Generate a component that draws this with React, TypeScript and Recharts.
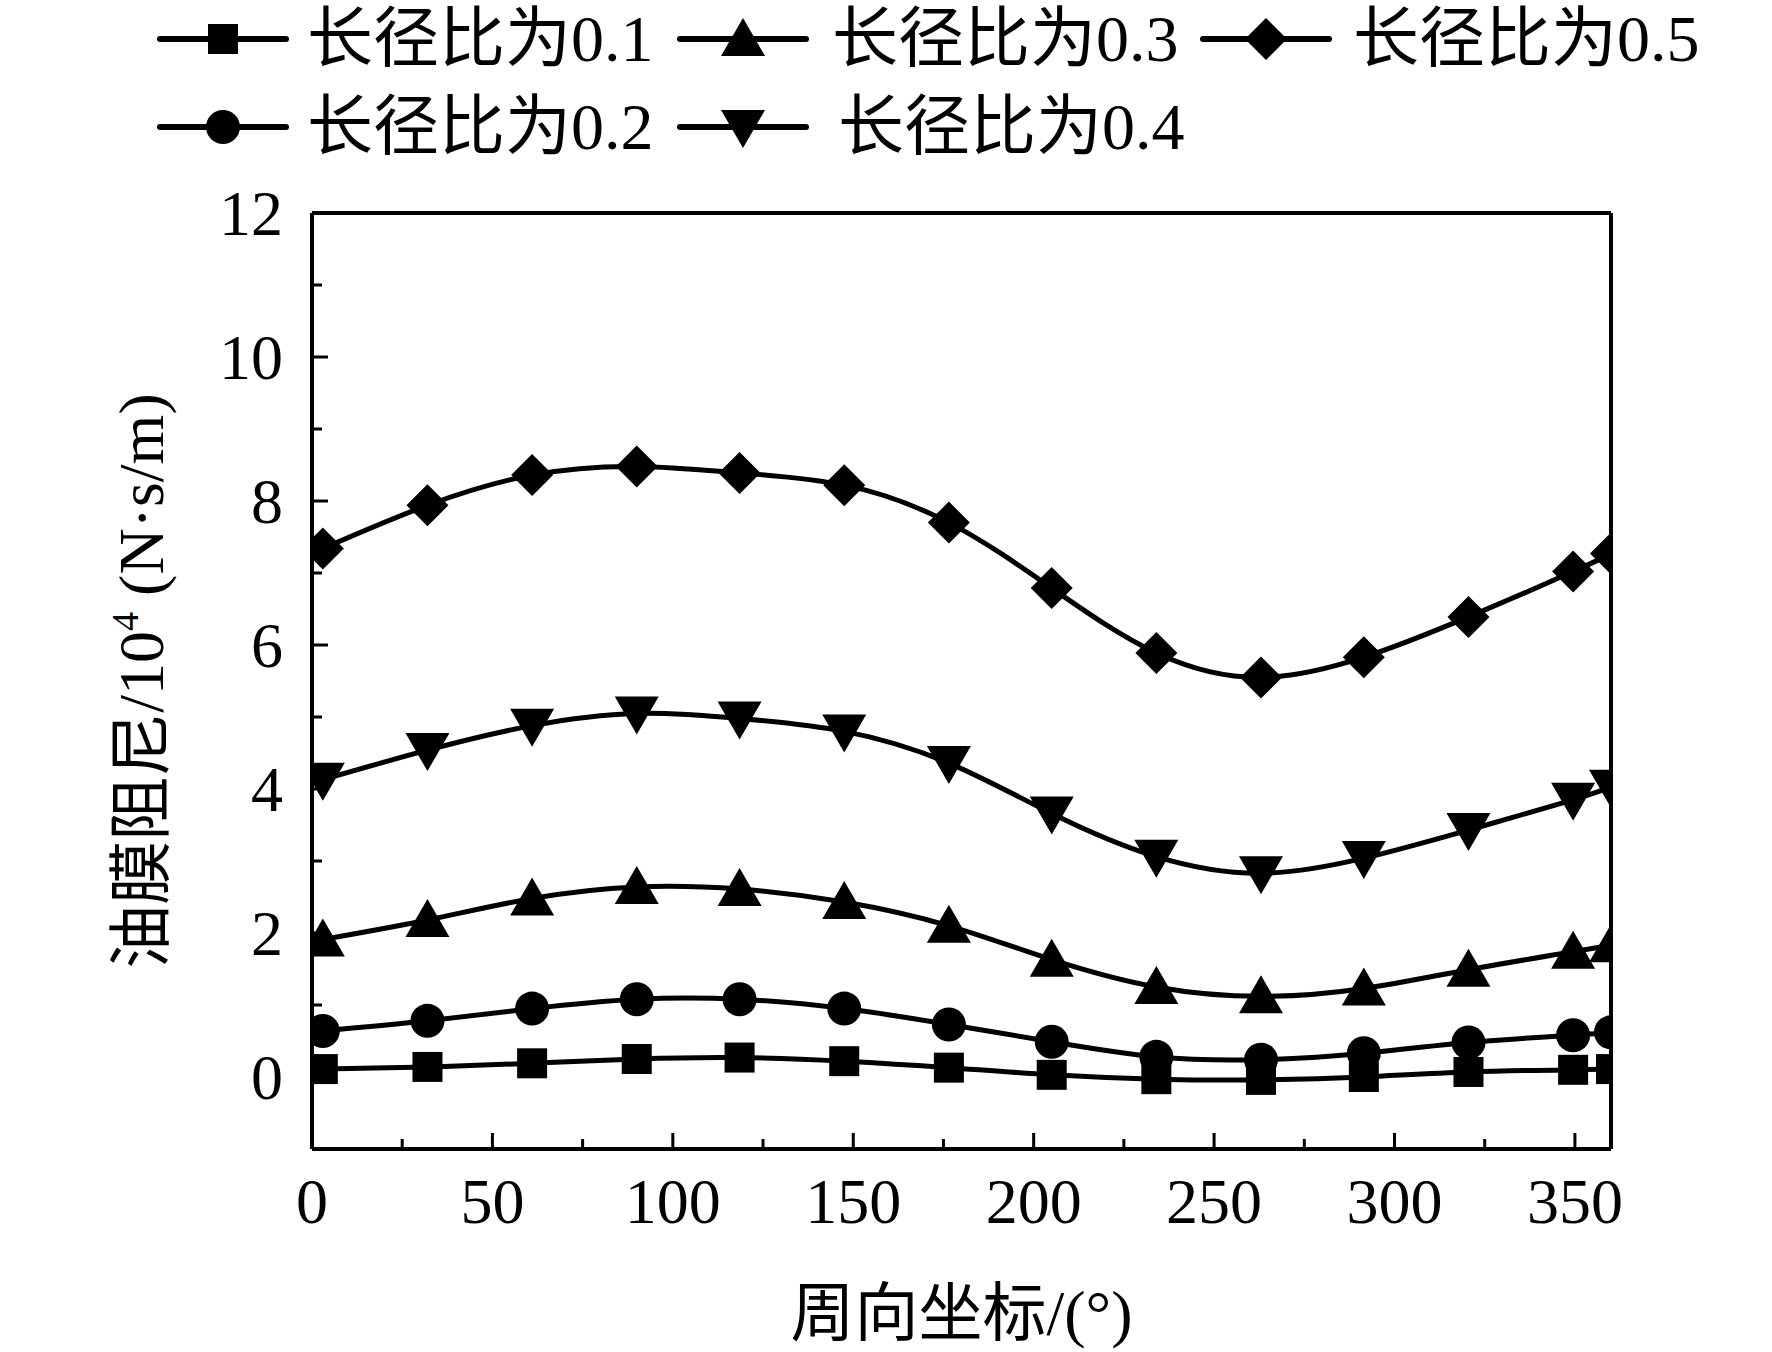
import React from 'react';
import {
  Label,
  Legend,
  Line,
  LineChart,
  ReferenceLine,
  XAxis,
  YAxis,
} from 'recharts';

// circumferential position (deg)
const angles = [3, 32, 61, 90, 118.5, 147.5, 176.5, 205, 234, 263, 291.5, 320.5, 349.5, 360];

// oil film damping, 10^4 N·s/m, per length/diameter ratio
const ratio01 = [0.11, 0.14, 0.19, 0.25, 0.27, 0.22, 0.13, 0.03, -0.03, -0.04, 0.0, 0.07, 0.1, 0.11];
const ratio02 = [0.64, 0.78, 0.95, 1.08, 1.08, 0.95, 0.73, 0.49, 0.28, 0.24, 0.33, 0.48, 0.58, 0.62];
const ratio03 = [1.91, 2.18, 2.48, 2.64, 2.61, 2.43, 2.1, 1.63, 1.25, 1.12, 1.23, 1.49, 1.74, 1.83];
const ratio04 = [4.13, 4.54, 4.88, 5.05, 4.98, 4.8, 4.36, 3.66, 3.06, 2.83, 3.04, 3.43, 3.85, 4.03];
const ratio05 = [7.34, 7.94, 8.36, 8.48, 8.39, 8.22, 7.7, 6.79, 5.89, 5.55, 5.83, 6.39, 7.02, 7.27];

const xTicks = [0, 25, 50, 75, 100, 125, 150, 175, 200, 225, 250, 275, 300, 325, 350];
const yTicks = [0, 1, 2, 3, 4, 5, 6, 7, 8, 9, 10, 11, 12];

const seriesNames = ['长径比为0.1', '长径比为0.2', '长径比为0.3', '长径比为0.4', '长径比为0.5'];

const data = angles.map((a, i) => ({
  angle: a,
  r1: ratio01[i],
  r2: ratio02[i],
  r3: ratio03[i],
  r4: ratio04[i],
  r5: ratio05[i],
}));

const FONT = "'Liberation Serif', 'Times New Roman', 'Noto Sans CJK SC', serif";
const FS = 64;
const LEGEND_FS = 66;

type Shape = 'square' | 'circle' | 'up' | 'down' | 'diamond';

function marker(shape: Shape, cx: number, cy: number, key?: string | number) {
  switch (shape) {
    case 'square':
      return <rect key={key} x={cx - 15} y={cy - 15} width={30} height={30} fill="#000" />;
    case 'circle':
      return <circle key={key} cx={cx} cy={cy} r={17} fill="#000" />;
    case 'up':
      return (
        <polygon
          key={key}
          points={`${cx},${cy - 21} ${cx - 22},${cy + 17} ${cx + 22},${cy + 17}`}
          fill="#000"
        />
      );
    case 'down':
      return (
        <polygon
          key={key}
          points={`${cx},${cy + 21} ${cx - 22},${cy - 17} ${cx + 22},${cy - 17}`}
          fill="#000"
        />
      );
    default:
      return (
        <polygon
          key={key}
          points={`${cx},${cy - 21} ${cx + 21},${cy} ${cx},${cy + 21} ${cx - 21},${cy}`}
          fill="#000"
        />
      );
  }
}

const series: { key: string; name: string; shape: Shape }[] = [
  { key: 'r1', name: seriesNames[0], shape: 'square' },
  { key: 'r2', name: seriesNames[1], shape: 'circle' },
  { key: 'r3', name: seriesNames[2], shape: 'up' },
  { key: 'r4', name: seriesNames[3], shape: 'down' },
  { key: 'r5', name: seriesNames[4], shape: 'diamond' },
];

// legend slots: [row y, line start, text x]
const legendSlots: Record<string, [number, number, number]> = {
  r1: [39, 160, 307],
  r3: [39, 680, 832],
  r5: [39, 1203, 1353],
  r2: [127, 160, 307],
  r4: [127, 680, 838],
};

function renderLegend() {
  return (
    <svg width={1772} height={170} style={{ display: 'block' }}>
      {series.map((s) => {
        const [y, x0, tx] = legendSlots[s.key];
        return (
          <g key={s.key}>
            <line x1={x0} y1={y} x2={x0 + 126} y2={y} stroke="#000" strokeWidth={6} strokeLinecap="round" />
            {marker(s.shape, x0 + 63, y)}
            <text x={tx} y={y} dy="0.34em" fontFamily={FONT} fontSize={LEGEND_FS} fill="#000">
              {s.name}
            </text>
          </g>
        );
      })}
    </svg>
  );
}

function XTick(props: any) {
  const { x, y, payload } = props;
  const v = payload.value as number;
  const major = v % 50 === 0;
  return (
    <g>
      <line x1={x} y1={y} x2={x} y2={y - (major ? 16 : 10)} stroke="#000" strokeWidth={3} />
      {major && (
        <text x={x} y={y + 74} textAnchor="middle" fontFamily={FONT} fontSize={FS} fill="#000">
          {v}
        </text>
      )}
    </g>
  );
}

function YTick(props: any) {
  const { x, y, payload } = props;
  const v = payload.value as number;
  const major = v % 2 === 0;
  return (
    <g>
      <line x1={x} y1={y} x2={x + (major ? 16 : 10)} y2={y} stroke="#000" strokeWidth={3} />
      {major && (
        <text x={x - 29} y={y} dy="0.34em" textAnchor="end" fontFamily={FONT} fontSize={FS} fill="#000">
          {v}
        </text>
      )}
    </g>
  );
}

function YTitle(props: any) {
  const vb = props.viewBox;
  const cx = vb.x + 141;
  const cy = vb.y + vb.height / 2;
  return (
    <text
      x={cx}
      y={cy}
      dy="0.34em"
      textAnchor="middle"
      transform={`rotate(-90 ${cx} ${cy})`}
      fontFamily={FONT}
      fontSize={FS}
      fill="#000"
    >
      油膜阻尼/10
      <tspan fontSize={38} dy={-25}>
        4
      </tspan>
      <tspan dy={25}> (N·s/m)</tspan>
    </text>
  );
}

function XTitle(props: any) {
  const vb = props.viewBox;
  const cx = vb.x + vb.width / 2;
  const cy = vb.y + 164;
  return (
    <text x={cx} y={cy} dy="0.34em" textAnchor="middle" fontFamily={FONT} fontSize={FS} fill="#000">
      周向坐标/(°)
    </text>
  );
}

export default function App() {
  return (
    <div style={{ position: 'absolute', left: 0, top: 0, width: 1772, height: 1352, background: '#fff' }}>
      <LineChart width={1772} height={1352} data={data} margin={{ top: 213, right: 161, bottom: 0, left: 0 }}>
        <XAxis
          dataKey="angle"
          type="number"
          domain={[0, 360]}
          ticks={xTicks}
          allowDataOverflow
          height={203}
          tickSize={0}
          tickMargin={0}
          tickLine={false}
          axisLine={{ stroke: '#000', strokeWidth: 4 }}
          tick={XTick}
          interval={0}
        >
          <Label content={XTitle} />
        </XAxis>
        <YAxis
          type="number"
          domain={[-1, 12]}
          ticks={yTicks}
          allowDataOverflow
          width={312}
          tickSize={0}
          tickMargin={0}
          tickLine={false}
          axisLine={{ stroke: '#000', strokeWidth: 4 }}
          tick={YTick}
          interval={0}
        >
          <Label content={YTitle} />
        </YAxis>
        <ReferenceLine y={12} stroke="#000" strokeWidth={4} />
        <ReferenceLine x={360} stroke="#000" strokeWidth={4} />
        <Legend
          layout="horizontal"
          verticalAlign="middle"
          align="center"
          content={renderLegend}
          wrapperStyle={{ position: 'absolute', left: 0, top: 0, width: 1772, height: 170 }}
        />
        {series.map((s) => (
          <Line
            key={s.key}
            dataKey={s.key}
            name={s.name}
            type="natural"
            stroke="#000"
            strokeWidth={5}
            isAnimationActive={false}
            dot={(p: any) => marker(s.shape, p.cx, p.cy, p.key ?? `${s.key}-${p.index}`)}
            activeDot={false}
            legendType="none"
          />
        ))}
      </LineChart>
    </div>
  );
}
